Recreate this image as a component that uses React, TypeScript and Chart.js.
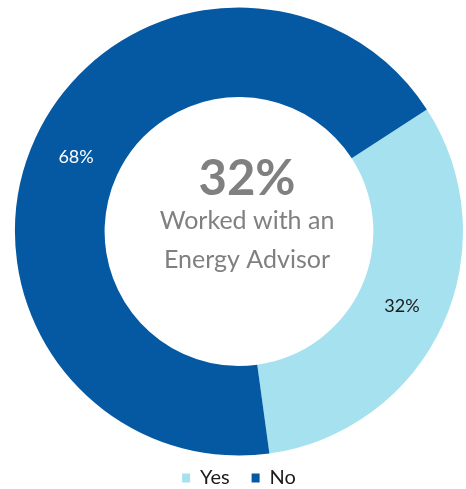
import React, { useEffect, useRef } from "react";
import { Chart, registerables } from "chart.js";
Chart.register(...registerables);

const categories = ["Yes", "No"];
const values = [32, 68];
const sliceLabels = ["32%", "68%"];
const centerValue = "32%";
const centerLines = ["Worked with an", "Energy Advisor"];
const colors = ["#a6e1f0", "#0559a3"];
const labelColors = ["#1a1a1a", "#ffffff"];

const FONT = "Lato, 'Open Sans', sans-serif";

export default function App() {
  const ref = useRef<HTMLCanvasElement>(null);
  useEffect(() => {
    const canvas = ref.current!;
    const plugin = {
      id: "texts",
      afterDatasetsDraw(chart: any) {
        const { ctx } = chart;
        const meta = chart.getDatasetMeta(0);
        ctx.save();
        ctx.textAlign = "center";
        ctx.textBaseline = "middle";
        ctx.font = `18px ${FONT}`;
        meta.data.forEach((arc: any, i: number) => {
          const p = arc.getCenterPoint();
          ctx.fillStyle = labelColors[i];
          ctx.fillText(sliceLabels[i], p.x, p.y);
        });
        const a = meta.data[0];
        const cx = a.x + 8;
        const cy = a.y;
        ctx.fillStyle = "#808080";
        ctx.textBaseline = "alphabetic";
        ctx.font = `bold 49px ${FONT}`;
        ctx.fillText(centerValue, cx, cy - 36.5);
        ctx.font = `25px ${FONT}`;
        ctx.fillText(centerLines[0], cx, cy - 2.5);
        ctx.fillText(centerLines[1], cx, cy + 36.5);
        ctx.restore();
      },
    };
    const chart = new Chart(canvas, {
      type: "doughnut",
      data: {
        labels: categories,
        datasets: [
          {
            data: values,
            backgroundColor: colors,
            borderWidth: 0,
            radius: 224,
            cutout: "60%",
          } as any,
        ],
      },
      options: {
        responsive: false,
        animation: false,
        rotation: 57,
        layout: { padding: { top: 17, left: 12, right: 0, bottom: 0 } },
        plugins: {
          tooltip: { enabled: false },
          legend: {
            position: "bottom",
            labels: {
              boxWidth: 8,
              boxHeight: 9,
              padding: 22,
              color: "#1a1a1a",
              font: { family: FONT, size: 20 },
            },
          },
        },
      },
      plugins: [plugin],
    });
    return () => chart.destroy();
  }, []);
  return (
    <div style={{ position: "fixed", left: 0, top: 0, width: 466, height: 489, overflow: "hidden", background: "#fff" }}>
      <canvas ref={ref} width={466} height={498} style={{ display: "block" }} />
    </div>
  );
}
